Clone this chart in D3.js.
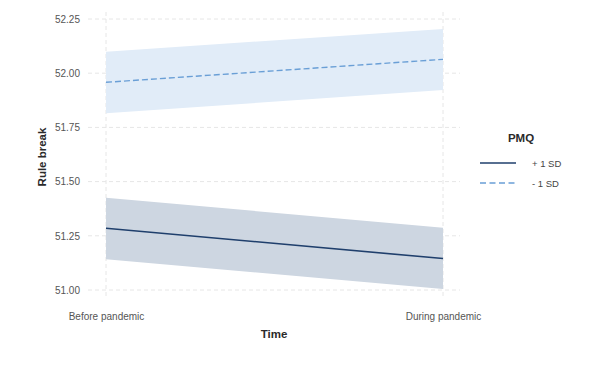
<!DOCTYPE html>
<html>
<head>
<meta charset="utf-8">
<script src="https://cdn.jsdelivr.net/npm/d3@7"></script>
<style>
body { margin: 0; background: #fff; }
svg { display: block; font-family: "Liberation Sans", Arial, sans-serif; }
</style>
</head>
<body>
<svg id="chart" width="600" height="367"></svg>
<script>
const timeLabels = ["Before pandemic", "During pandemic"];
const seriesNames = ["+ 1 SD", "- 1 SD"];
const plusMean = [51.285, 51.145];
const plusLower = [51.142, 51.005];
const plusUpper = [51.426, 51.287];
const minusMean = [51.958, 52.064];
const minusLower = [51.815, 51.923];
const minusUpper = [52.099, 52.204];
const yTicks = [51.00, 51.25, 51.50, 51.75, 52.00, 52.25];

const svg = d3.select("#chart");
const x = d3.scalePoint().domain(timeLabels).range([106, 443]);
const y = d3.scaleLinear().domain([51.0, 52.25]).range([290, 19]);

const colors = { plus: "#1f3f6c", minus: "#6a9fd6", plusBand: "#cdd6e1", minusBand: "#e1ecf8" };

// grid
const grid = svg.append("g");
grid.selectAll("line.h").data(yTicks).enter().append("line")
  .attr("x1", 88).attr("x2", 460)
  .attr("y1", d => y(d)).attr("y2", d => y(d))
  .attr("stroke", "#e6e6e6").attr("stroke-width", 1).attr("stroke-dasharray", "4,3");
grid.selectAll("line.v").data(timeLabels).enter().append("line")
  .attr("y1", 12).attr("y2", 297)
  .attr("x1", d => x(d)).attr("x2", d => x(d))
  .attr("stroke", "#e6e6e6").attr("stroke-width", 1).attr("stroke-dasharray", "4,3");

function bandData(lo, hi) { return timeLabels.map((t, i) => ({ t, lo: lo[i], hi: hi[i] })); }
const area = d3.area().x(d => x(d.t)).y0(d => y(d.lo)).y1(d => y(d.hi));
const line = d3.line().x(d => x(d.t)).y(d => y(d.v));

svg.append("path").datum(bandData(minusLower, minusUpper)).attr("d", area).attr("fill", colors.minusBand);
svg.append("path").datum(bandData(plusLower, plusUpper)).attr("d", area).attr("fill", colors.plusBand);

svg.append("path").datum(timeLabels.map((t, i) => ({ t, v: minusMean[i] }))).attr("d", line)
  .attr("fill", "none").attr("stroke", colors.minus).attr("stroke-width", 1.4).attr("stroke-dasharray", "6,3");
svg.append("path").datum(timeLabels.map((t, i) => ({ t, v: plusMean[i] }))).attr("d", line)
  .attr("fill", "none").attr("stroke", colors.plus).attr("stroke-width", 1.6);

// axes
const yAxis = d3.axisLeft(y).tickValues(yTicks).tickFormat(d3.format(".2f")).tickSize(0).tickPadding(8);
const gy = svg.append("g").attr("transform", "translate(88,0)").call(yAxis);
gy.select(".domain").remove();
gy.selectAll("text").attr("fill", "#555").attr("font-size", 10).attr("font-family", "Liberation Sans, Arial, sans-serif");

const xAxis = d3.axisBottom(x).tickSize(0).tickPadding(8);
const gx = svg.append("g").attr("transform", "translate(0,305)").call(xAxis);
gx.select(".domain").remove();
gx.selectAll("text").attr("fill", "#555").attr("font-size", 10).attr("font-family", "Liberation Sans, Arial, sans-serif");

svg.append("text").attr("x", 274).attr("y", 338).attr("text-anchor", "middle")
  .attr("font-size", 11.5).attr("font-weight", "bold").attr("fill", "#2a2a2a").text("Time");
svg.append("text").attr("transform", "translate(46,157) rotate(-90)").attr("text-anchor", "middle")
  .attr("font-size", 11.5).attr("font-weight", "bold").attr("fill", "#2a2a2a").text("Rule break");

// legend
const lg = svg.append("g");
lg.append("text").attr("x", 521).attr("y", 142).attr("text-anchor", "middle")
  .attr("font-size", 11.5).attr("font-weight", "bold").attr("fill", "#2a2a2a").text("PMQ");
const legendItems = [
  { name: seriesNames[0], color: colors.plus, dash: null, yy: 163 },
  { name: seriesNames[1], color: colors.minus, dash: "6,3.5", yy: 183 }
];
legendItems.forEach(it => {
  lg.append("line").attr("x1", 480).attr("x2", 516).attr("y1", it.yy).attr("y2", it.yy)
    .attr("stroke", it.color).attr("stroke-width", 1.5).attr("stroke-dasharray", it.dash);
  lg.append("text").attr("x", 532).attr("y", it.yy + 3.5).attr("font-size", 9.5)
    .attr("fill", "#444").text(it.name);
});
</script>
</body>
</html>
